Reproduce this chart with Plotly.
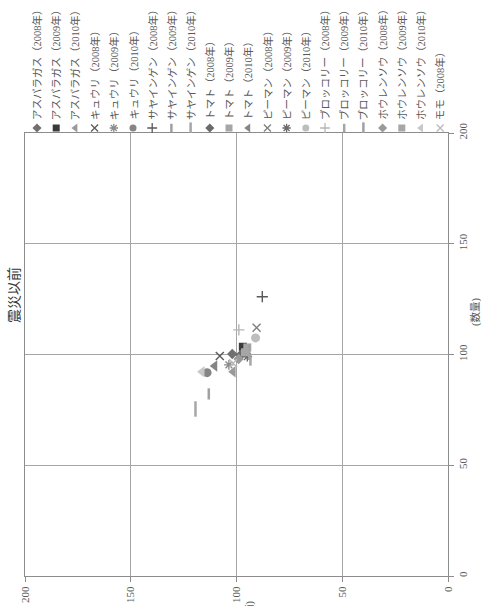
import plotly.graph_objects as go

# ---- data ----
series_names = [
    "アスパラガス（2008年）", "アスパラガス（2009年）", "アスパラガス（2010年）",
    "キュウリ（2008年）", "キュウリ（2009年）", "キュウリ（2010年）",
    "サヤインゲン（2008年）", "サヤインゲン（2009年）", "サヤインゲン（2010年）",
    "トマト（2008年）", "トマト（2009年）", "トマト（2010年）",
    "ピーマン（2008年）", "ピーマン（2009年）", "ピーマン（2010年）",
    "ブロッコリー（2008年）", "ブロッコリー（2009年）", "ブロッコリー（2010年）",
    "ホウレンソウ（2008年）", "ホウレンソウ（2009年）", "ホウレンソウ（2010年）",
    "モモ（2008年）",
]
# horizontal axis value (left = 200, right = 0)
tanka = [102.0, 97.0, 101.6, 107.9, 103.6, 113.9, 87.8, 113.1, 119.4,
         98.1, 94.9, 110.3, 90.5, 94.9, 91.0, 98.9, 93.4, 94.0,
         99.0, 96.0, 116.3, 101.6]
# vertical axis value (数量)
suryo = [100.2, 103.5, 92.2, 99.3, 95.3, 91.8, 126.1, 82.2, 75.4,
         99.8, 103.2, 94.8, 112.1, 99.0, 107.5, 111.1, 97.5, 101.0,
         98.0, 101.0, 92.2, 96.0]
axis_ticks = [0, 50, 100, 150, 200]
title_text = "震災以前"
v_axis_title = "(数量)"
h_axis_title = "(単価)"

# ---- styles ----
symbols = ["diamond", "square", "triangle-left", "x-thin", "asterisk", "circle",
           "cross-thin", "line-ns", "line-ns",
           "diamond", "square", "triangle-left", "x-thin", "asterisk", "circle",
           "cross-thin", "line-ns", "line-ns",
           "diamond", "square", "triangle-left", "x-thin"]
colors = ["#707070", "#3a3a3a", "#9a9a9a", "#5a5a5a", "#8c8c8c", "#858585",
          "#5a5a5a", "#a0a0a0", "#a6a6a6",
          "#6a6a6a", "#a6a6a6", "#858585", "#808080", "#6a6a6a", "#bdbdbd",
          "#b5b5b5", "#a6a6a6", "#a0a0a0",
          "#9a9a9a", "#a6a6a6", "#c8c8c8", "#bbbbbb"]
sizes = [8, 8, 10, 8, 8, 9, 8, 8, 11, 8, 8, 10, 8, 8, 9, 8, 8, 11, 8, 8, 10, 8]
leg_sizes = [7, 7, 8, 7, 7, 7, 7, 6, 8, 7, 7, 8, 7, 7, 7, 7, 6, 8, 7, 7, 8, 7]
line_syms = {"x-thin", "asterisk", "cross-thin", "line-ns"}

W, H = 481, 606
ML, MR, MT, MB = 25, 33, 0, 30
plot_top_px = 133
plot_w = W - ML - MR
plot_h = H - MT - MB
y_dom_top = (plot_h - (plot_top_px - MT)) / plot_h


def px_x(px):
    return (px - ML) / plot_w


def px_y(py):
    return (H - MB - py) / plot_h


fig = go.Figure()
n = len(series_names)
for i in range(n):
    sym = symbols[i]
    lw = 2.5 if sym == "line-ns" else (1.4 if sym in line_syms else 0)
    fig.add_trace(go.Scatter(
        x=[tanka[i]], y=[suryo[i]], mode="markers", name=series_names[i],
        marker=dict(symbol=sym, size=sizes[i], color=colors[i],
                    line=dict(color=colors[i], width=lw)),
        xaxis="x", yaxis="y", showlegend=False, hoverinfo="skip"))

# hand-made rotated legend: markers on a hidden axis pair above the plot
leg_idx = list(range(n))
for i in range(n):
    sym = symbols[i]
    lw = 2.5 if sym == "line-ns" else (1.3 if sym in line_syms else 0)
    fig.add_trace(go.Scatter(
        x=[leg_idx[i]], y=[5], mode="markers", showlegend=False, hoverinfo="skip",
        marker=dict(symbol=sym, size=leg_sizes[i], color=colors[i],
                    line=dict(color=colors[i], width=lw)),
        xaxis="x2", yaxis="y2"))

font_fam = "Liberation Serif, Noto Sans CJK JP, serif"
annotations = []
for i in range(n):
    annotations.append(dict(
        x=leg_idx[i], y=11, xref="x2", yref="y2", text=series_names[i],
        textangle=-90, showarrow=False, xanchor="center", yanchor="bottom",
        font=dict(family=font_fam, size=10.5, color="#595959")))

annotations.append(dict(x=px_x(14), y=px_y(295), xref="paper", yref="paper",
                        text=title_text, textangle=-90, showarrow=False,
                        xanchor="center", yanchor="middle",
                        font=dict(family=font_fam, size=14, color="#333333")))
annotations.append(dict(x=px_x(475), y=px_y(312), xref="paper", yref="paper",
                        text=v_axis_title, textangle=-90, showarrow=False,
                        xanchor="center", yanchor="middle",
                        font=dict(family=font_fam, size=10.5, color="#595959")))
annotations.append(dict(x=px_x(249), y=px_y(599), xref="paper", yref="paper",
                        text=h_axis_title, textangle=-90, showarrow=False,
                        xanchor="center", yanchor="top",
                        font=dict(family=font_fam, size=10.5, color="#595959")))

grid_col = "#a6a6a6"
axis_common = dict(tickvals=axis_ticks, ticktext=[str(v) for v in axis_ticks],
                   tickangle=-90, showgrid=True, gridcolor=grid_col, gridwidth=1,
                   showline=True, linecolor="#8c8c8c", linewidth=1, mirror=True,
                   ticks="outside", ticklen=5, tickcolor="#8c8c8c",
                   zeroline=False, automargin=False,
                   tickfont=dict(family=font_fam, size=11, color="#595959"))
fig.update_layout(
    template="none",
    width=W, height=H,
    margin=dict(l=ML, r=MR, t=MT, b=MB, pad=0),
    paper_bgcolor="white", plot_bgcolor="white",
    font=dict(family=font_fam, size=11, color="#595959"),
    xaxis=dict(domain=[0, 1], range=[200, 0], anchor="y", **axis_common),
    yaxis=dict(domain=[0, y_dom_top], range=[0, 200], side="right", anchor="x",
               **axis_common),
    xaxis2=dict(domain=[0, 1], range=[-0.625, 21.406], visible=False,
                anchor="y2", fixedrange=True),
    yaxis2=dict(domain=[y_dom_top, 1], range=[0, plot_top_px - MT], visible=False,
                anchor="x2", fixedrange=True),
    annotations=annotations,
    showlegend=False,
)

fig.write_html("out.html",
               config={"displayModeBar": False, "staticPlot": True},
               post_script="document.body.style.margin='0';"
                           "document.body.style.overflow='hidden';")
